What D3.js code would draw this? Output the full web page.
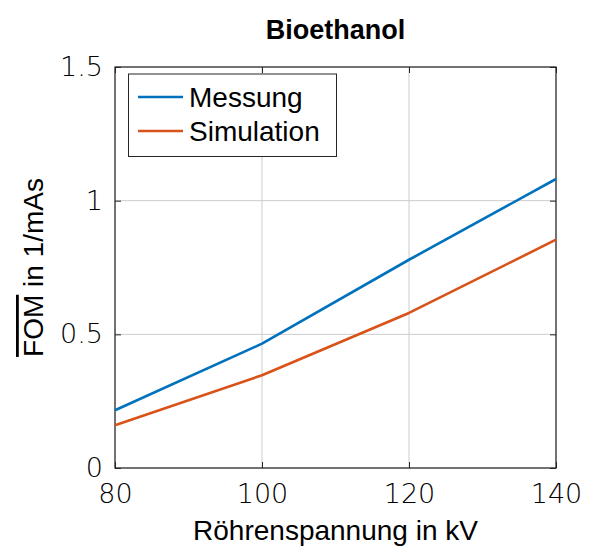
<!DOCTYPE html>
<html>
<head>
<meta charset="utf-8">
<script src="https://cdn.jsdelivr.net/npm/d3@7"></script>
<style>
  html, body { margin: 0; padding: 0; background: #fff; }
  svg { display: block; }
  text { font-family: "Liberation Sans", Arial, sans-serif; fill: #000; }
</style>
</head>
<body>
<svg id="chart" width="591" height="547"></svg>
<script>
// Tube voltage (kV)
const voltages = [80, 100, 120, 140];
// Mean figure of merit in 1/mAs
const messung = [0.216, 0.465, 0.779, 1.081];
const simulation = [0.160, 0.347, 0.580, 0.854];
const xTicks = [80, 100, 120, 140];
const yTicks = [0, 0.5, 1, 1.5];
const yTickLabels = ["0", "0.5", "1", "1.5"];
const seriesNames = ["Messung", "Simulation"];
const seriesColors = ["#0072BD", "#D95319"];

const svg = d3.select("#chart");
const margin = { left: 115, right: 35, top: 67, bottom: 79 };
const W = 591, H = 547;
const x = d3.scaleLinear().domain([80, 140]).range([margin.left, W - margin.right]);
const y = d3.scaleLinear().domain([0, 1.5]).range([H - margin.bottom, margin.top]);

const x0 = x.range()[0], x1 = x.range()[1];
const yb = y.range()[0], yt = y.range()[1];

// grid
const grid = svg.append("g").attr("stroke", "#cccccc").attr("stroke-width", 1);
xTicks.forEach(t => grid.append("line").attr("x1", x(t)).attr("x2", x(t)).attr("y1", yb).attr("y2", yt));
yTicks.forEach(t => grid.append("line").attr("x1", x0).attr("x2", x1).attr("y1", y(t)).attr("y2", y(t)));

// axes with inward ticks on all four sides
const tickLen = 6;
const axBottom = d3.axisBottom(x).tickValues(xTicks).tickSizeInner(-tickLen).tickSizeOuter(0).tickPadding(12).tickFormat(d3.format("d"));
const axTop = d3.axisTop(x).tickValues(xTicks).tickSizeInner(-tickLen).tickSizeOuter(0).tickFormat("");
const axLeft = d3.axisLeft(y).tickValues(yTicks).tickSizeInner(-tickLen).tickSizeOuter(0).tickPadding(12).tickFormat((d, i) => yTickLabels[i]);
const axRight = d3.axisRight(y).tickValues(yTicks).tickSizeInner(-tickLen).tickSizeOuter(0).tickFormat("");

function styleAxis(g) {
  g.select(".domain").remove();
  g.selectAll(".tick line").attr("stroke", "#262626").attr("stroke-width", 1);
  g.selectAll(".tick text").attr("font-size", 27).attr("fill", "#262626")
    .style("font-family", "'DejaVu Sans', sans-serif").style("font-weight", 300);
}
svg.append("g").attr("transform", `translate(0,${yb})`).call(axBottom).call(styleAxis)
  .selectAll(".tick text").attr("dy", "0.85em");
svg.append("g").attr("transform", `translate(0,${yt})`).call(axTop).call(styleAxis);
svg.append("g").attr("transform", `translate(${x0},0)`).call(axLeft).call(styleAxis);
svg.append("g").attr("transform", `translate(${x1},0)`).call(axRight).call(styleAxis);

// frame
svg.append("rect").attr("x", x0).attr("y", yt).attr("width", x1 - x0).attr("height", yb - yt)
  .attr("fill", "none").attr("stroke", "#262626").attr("stroke-width", 1.2);

// lines
const line = d3.line().x((d, i) => x(voltages[i])).y(d => y(d));
[messung, simulation].forEach((s, k) => {
  svg.append("path").datum(s).attr("d", line).attr("fill", "none")
    .attr("stroke", seriesColors[k]).attr("stroke-width", 2.6).attr("stroke-linejoin", "round");
});

// legend
const lg = svg.append("g");
lg.append("rect").attr("x", 128.5).attr("y", 74).attr("width", 208).attr("height", 82.5)
  .attr("fill", "#fff").attr("stroke", "#262626").attr("stroke-width", 1);
seriesNames.forEach((name, k) => {
  const cy = 97 + k * 34;
  lg.append("line").attr("x1", 138).attr("x2", 183).attr("y1", cy).attr("y2", cy)
    .attr("stroke", seriesColors[k]).attr("stroke-width", 2.6);
  lg.append("text").attr("x", 189).attr("y", cy).attr("dy", "0.35em")
    .attr("font-size", 28).text(name);
});

// title
svg.append("text").attr("x", (x0 + x1) / 2).attr("y", 39).attr("text-anchor", "middle")
  .attr("font-size", 27).attr("font-weight", "bold").text("Bioethanol");

// x label
svg.append("text").attr("x", (x0 + x1) / 2).attr("y", 540).attr("text-anchor", "middle")
  .attr("font-size", 28).text("Röhrenspannung in kV");

// y label with overline on FOM
const yl = svg.append("text").attr("transform", `translate(43,${(yb + yt) / 2}) rotate(-90)`)
  .attr("text-anchor", "middle").attr("font-size", 28);
yl.append("tspan").style("text-decoration", "overline").text("FOM");
yl.append("tspan").text(" in 1/mAs");
</script>
</body>
</html>
